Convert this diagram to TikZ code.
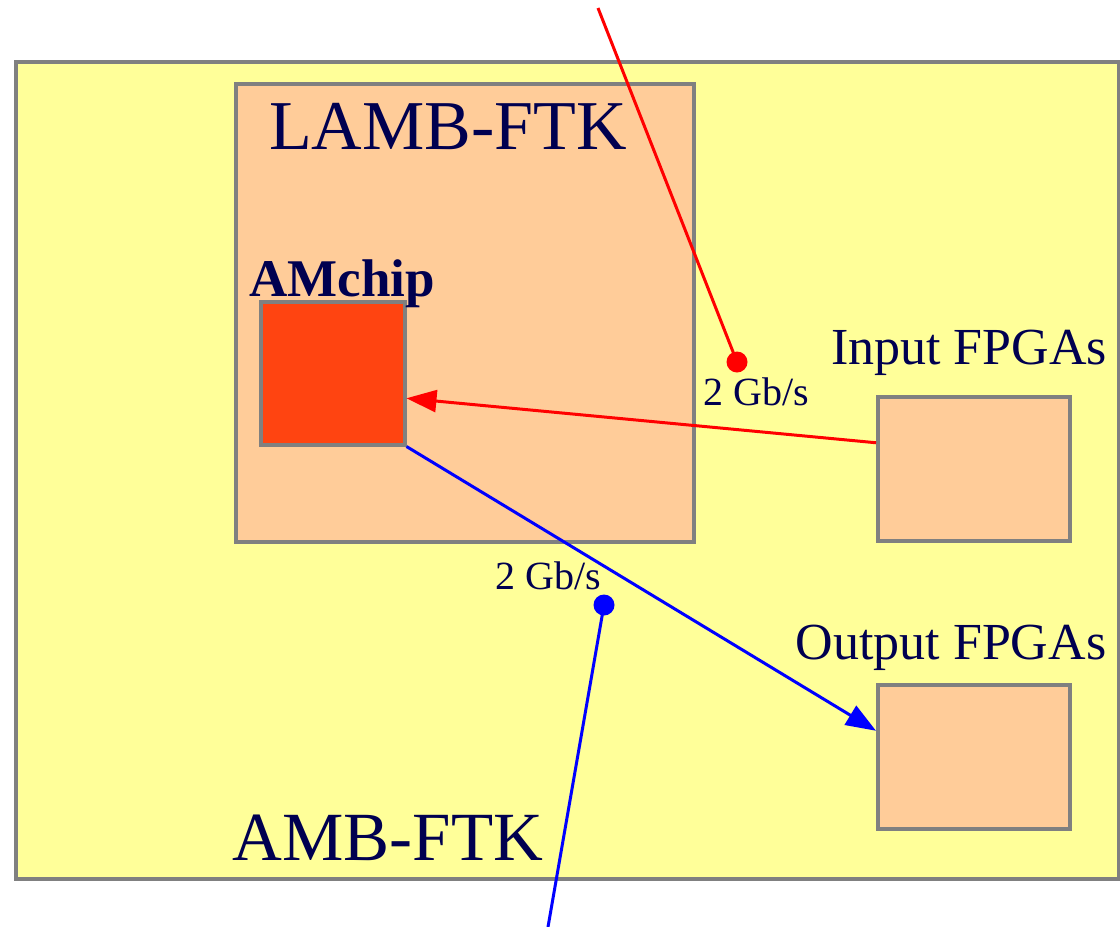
\documentclass[tikz,border=0pt]{standalone}
\usepackage{fontspec}
\setmainfont{Liberation Serif}
\usetikzlibrary{positioning,arrows.meta,calc}
\definecolor{boardyellow}{RGB}{255,255,153}
\definecolor{chipbeige}{RGB}{255,204,153}
\definecolor{chipred}{RGB}{255,68,17}
\definecolor{framegray}{RGB}{128,128,128}
\definecolor{textnavy}{RGB}{0,0,80}
\begin{document}
\begin{tikzpicture}[
    x=1pt, y=-1pt,
    board/.style={
      draw=framegray,
      line width=3.5pt,
      anchor=north west,
      inner sep=0pt
    },
    lbl/.style={
      text=textnavy,
      anchor=base,
      inner sep=0pt
    },
    link/.style={
      line width=3pt,
      -{Triangle[length=30pt,width=22pt]}
    },
    dot/.style={
      circle,
      inner sep=0pt,
      minimum size=21pt
    }
  ]
    \useasboundingbox (0,0) rectangle (1120,927);
    % boards
    \node[board, fill=boardyellow, minimum width=1103pt, minimum height=817pt] (amb) at (14,60) {};
    \node[board, fill=chipbeige, minimum width=458pt, minimum height=458pt] (lamb) at (234,82) {};
    \node[board, fill=chipred, minimum width=144pt, minimum height=143pt] (chip) at (259,300) {};
    \node[board, fill=chipbeige, minimum width=192pt, minimum height=144pt] (infpga) at (876,395) {};
    \node[board, fill=chipbeige, minimum width=192pt, minimum height=144pt] (outfpga) at (876,683) {};
    % labels
    \node[lbl, font=\fontsize{70}{70}\selectfont] (lambtxt) at (448,149) {LAMB-FTK};
    \node[lbl, font=\fontsize{53}{53}\selectfont\bfseries] (chiptxt) at (342,296) {AMchip};
    \node[lbl, font=\fontsize{52}{52}\selectfont] (intxt) at (969,364) {Input FPGAs};
    \node[lbl, font=\fontsize{52}{52}\selectfont] (outtxt) at (951,659) {Output FPGAs};
    \node[lbl, font=\fontsize{69}{69}\selectfont] (ambtxt) at (388,860) {AMB-FTK};
    \node[lbl, font=\fontsize{40}{40}\selectfont] (redrate) at (756,405) {2 Gb/s};
    \node[lbl, font=\fontsize{40}{40}\selectfont] (bluerate) at (548,589) {2 Gb/s};
    % probes
    \node[dot, fill=red] (reddot) at (737,362) {};
    \node[dot, fill=blue] (bluedot) at (604,605) {};
    \coordinate (redend) at (598,8);
    \coordinate (blueend) at (548,927);
    \draw[red, line width=3pt] (redend) -- (reddot.center);
    \draw[blue, line width=3pt] (bluedot.center) -- (blueend);
    % data flow
    \draw[link, red] ($(infpga.west)+(0,-26)$) -- ($(chip.east)+(0,25)$);
    \draw[link, blue] (chip.south east) -- ($(outfpga.west)+(0,-26)$);
  \end{tikzpicture}
\end{document}
